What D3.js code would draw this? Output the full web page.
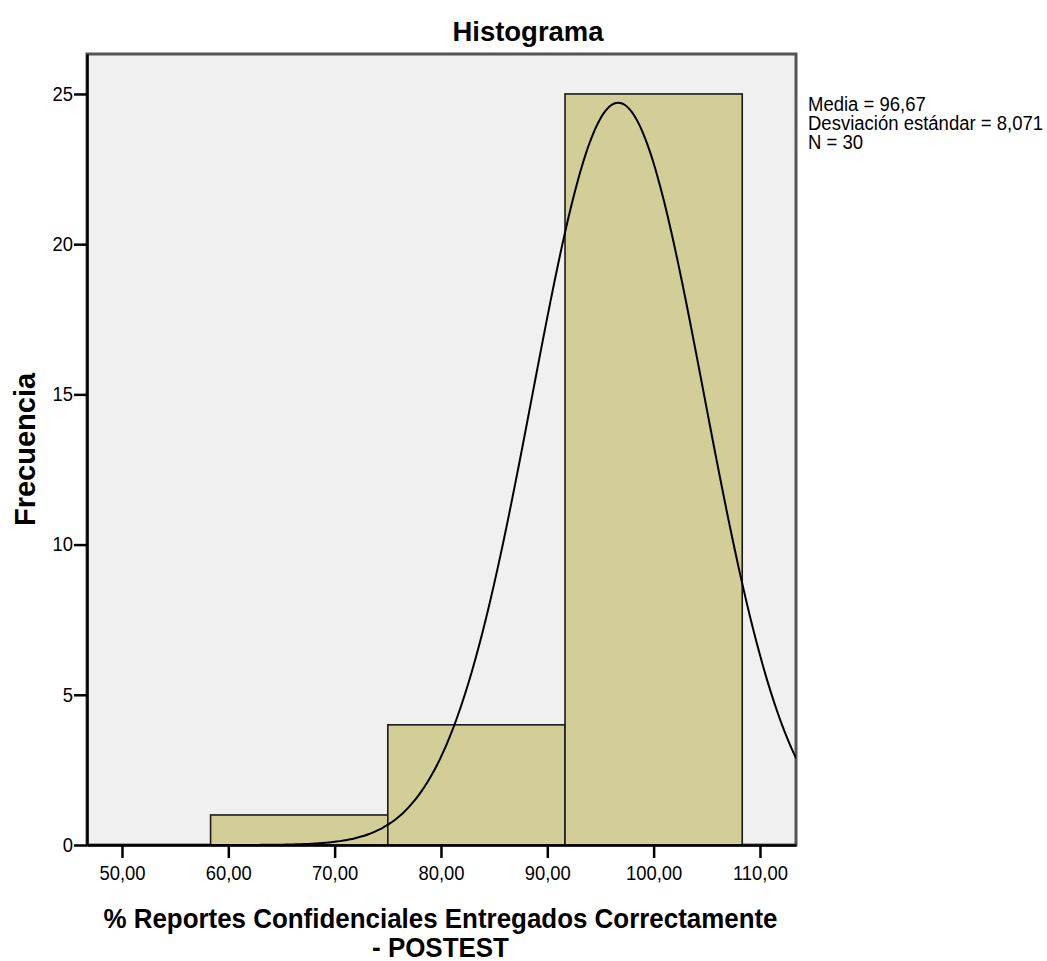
<!DOCTYPE html>
<html>
<head>
<meta charset="utf-8">
<script src="https://cdn.jsdelivr.net/npm/d3@7"></script>
<style>
  body { margin: 0; background: #fff; }
  text { font-family: Arial, "Liberation Sans", sans-serif; fill: #000; }
</style>
</head>
<body>
<div id="chart"></div>
<script>
// histogram data
const binEdges = [58.333, 75.0, 91.667, 108.333];
const binCounts = [1, 4, 25];
const xTicks = [50, 60, 70, 80, 90, 100, 110];
const yTicks = [0, 5, 10, 15, 20, 25];
const statLines = ["Media = 96,67", "Desviación estándar = 8,071", "N = 30"];
const mean = 96.67, sd = 8.071, n = 30;

const width = 1047, height = 961;
const margin = { top: 54, right: 251, bottom: 116, left: 87 };

const svg = d3.select("#chart").append("svg")
    .attr("width", width)
    .attr("height", height);

const x = d3.scaleLinear()
    .domain([46.71, 113.39])
    .range([margin.left, width - margin.right]);

const y = d3.scaleLinear()
    .domain([0, 26.33])
    .range([height - margin.bottom, margin.top]);

const fmt = d => d3.format(".2f")(d).replace(".", ",");

// glyphs in the original are a bit narrow
function narrow(sel, k) {
    sel.each(function () {
        const w = this.getComputedTextLength();
        this.setAttribute("textLength", w * k);
        this.setAttribute("lengthAdjust", "spacingAndGlyphs");
    });
}

// plot background + frame
svg.append("rect")
    .attr("x", x.range()[0])
    .attr("y", y.range()[1])
    .attr("width", x.range()[1] - x.range()[0])
    .attr("height", y.range()[0] - y.range()[1])
    .attr("fill", "#f0f0f0")
    .attr("stroke", "#555")
    .attr("stroke-width", 3);

// bars
const bins = binCounts.map((c, i) => ({ x0: binEdges[i], x1: binEdges[i + 1], count: c }));
svg.append("g").selectAll("rect")
    .data(bins)
    .enter()
    .append("rect")
        .attr("x", d => x(d.x0))
        .attr("y", d => y(d.count))
        .attr("width", d => x(d.x1) - x(d.x0))
        .attr("height", d => y(0) - y(d.count))
        .attr("fill", "#d3ce98")
        .attr("stroke", "#1a1a1a")
        .attr("stroke-width", 1.6);

// fitted normal curve, scaled to counts per bin
const binWidth = binEdges[1] - binEdges[0];
const curvePts = d3.range(200).map(i => {
    const v = x.domain()[0] + i * (x.domain()[1] - x.domain()[0]) / 199;
    const z = (v - mean) / sd;
    return [v, n * binWidth * Math.exp(-0.5 * z * z) / (sd * Math.sqrt(2 * Math.PI))];
});

svg.append("clipPath").attr("id", "plotclip")
    .append("rect")
    .attr("x", x.range()[0]).attr("y", y.range()[1])
    .attr("width", x.range()[1] - x.range()[0])
    .attr("height", y.range()[0] - y.range()[1]);

svg.append("path")
    .datum(curvePts)
    .attr("clip-path", "url(#plotclip)")
    .attr("fill", "none")
    .attr("stroke", "#000")
    .attr("stroke-width", 2)
    .attr("d", d3.line().x(d => x(d[0])).y(d => y(d[1])).curve(d3.curveBasis));

// axes
const xAxis = svg.append("g")
    .attr("transform", `translate(0,${y(0)})`)
    .call(d3.axisBottom(x).tickValues(xTicks).tickFormat(fmt).tickSize(13).tickSizeOuter(0));
const yAxis = svg.append("g")
    .attr("transform", `translate(${x.range()[0]},0)`)
    .call(d3.axisLeft(y).tickValues(yTicks).tickSize(13).tickSizeOuter(0));

[xAxis, yAxis].forEach(g => {
    g.select(".domain").attr("stroke", "#000").attr("stroke-width", 2.5);
    g.selectAll(".tick line").attr("stroke", "#000").attr("stroke-width", 2.5);
    g.selectAll(".tick text")
        .style("font-family", "Arial, 'Liberation Sans', sans-serif")
        .style("font-size", "20px")
        .attr("fill", "#111");
});
xAxis.selectAll(".tick text").attr("y", 21).call(narrow, 0.92);
yAxis.selectAll(".tick text").attr("x", -14).call(narrow, 0.92);

// title
svg.append("text")
    .attr("x", 528)
    .attr("y", 41)
    .attr("text-anchor", "middle")
    .style("font-size", "28px")
    .style("font-weight", "bold")
    .text("Histograma")
    .call(narrow, 0.98);

// axis titles
const xMid = (x.range()[0] + x.range()[1]) / 2 - 1;
svg.append("text")
    .attr("x", xMid).attr("y", 928)
    .attr("text-anchor", "middle")
    .style("font-size", "27px")
    .style("font-weight", "bold")
    .text("% Reportes Confidenciales Entregados Correctamente")
    .call(narrow, 0.96);
svg.append("text")
    .attr("x", xMid).attr("y", 957)
    .attr("text-anchor", "middle")
    .style("font-size", "27px")
    .style("font-weight", "bold")
    .text("- POSTEST")
    .call(narrow, 0.96);

svg.append("text")
    .attr("transform", `translate(35,${(y.range()[0] + y.range()[1]) / 2}) rotate(-90)`)
    .attr("text-anchor", "middle")
    .style("font-size", "29px")
    .style("font-weight", "bold")
    .text("Frecuencia");

// stats box
svg.append("g").selectAll("text")
    .data(statLines)
    .enter()
    .append("text")
        .attr("x", 808)
        .attr("y", (d, i) => 111 + i * 19)
        .style("font-size", "20px")
        .text(d => d)
        .call(narrow, 0.925);
</script>
</body>
</html>
